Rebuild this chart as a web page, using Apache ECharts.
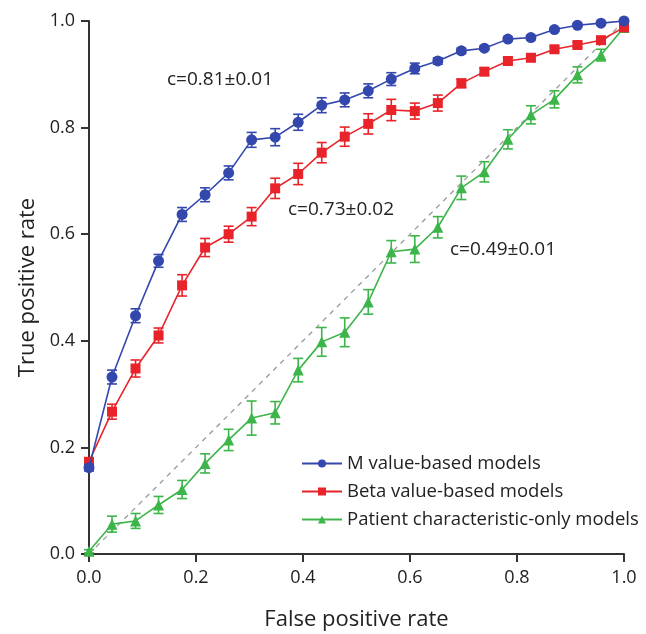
<!DOCTYPE html>
<html>
<head>
<meta charset="utf-8">
<script src="https://cdn.jsdelivr.net/npm/echarts@6/dist/echarts.min.js"></script>
<style>
  html, body { margin: 0; padding: 0; background: #fff; }
  #chart { width: 646px; height: 634px; }
</style>
</head>
<body>
<div id="chart"></div>
<script>
// false positive rate (x positions of the points)
const fpr = [0, 0.043, 0.087, 0.13, 0.174, 0.217, 0.261, 0.304, 0.348, 0.391, 0.435, 0.478,
  0.522, 0.565, 0.609, 0.652, 0.696, 0.739, 0.783, 0.826, 0.87, 0.913, 0.957, 1];

// M value-based models
const mValue = [0.162, 0.332, 0.447, 0.550, 0.637, 0.674, 0.715, 0.777, 0.782, 0.810, 0.842, 0.852,
  0.869, 0.891, 0.911, 0.925, 0.944, 0.949, 0.966, 0.969, 0.984, 0.992, 0.996, 1.0];
const mErr = [0.006, 0.013, 0.013, 0.012, 0.013, 0.013, 0.013, 0.014, 0.016, 0.015, 0.014, 0.013,
  0.013, 0.012, 0.01, 0.006, 0.005, 0.004, 0.004, 0.004, 0.003, 0.003, 0.003, 0.002];

// Beta value-based models
const betaValue = [0.173, 0.267, 0.348, 0.410, 0.504, 0.575, 0.600, 0.633, 0.686, 0.713, 0.753, 0.783,
  0.807, 0.833, 0.831, 0.846, 0.883, 0.905, 0.925, 0.931, 0.947, 0.955, 0.964, 0.988];
const betaErr = [0.006, 0.014, 0.016, 0.014, 0.02, 0.017, 0.015, 0.017, 0.019, 0.02, 0.019, 0.018,
  0.019, 0.02, 0.015, 0.015, 0.008, 0.007, 0.006, 0.006, 0.005, 0.005, 0.005, 0.004];

// Patient characteristic-only models
const patientValue = [0.005, 0.056, 0.062, 0.092, 0.121, 0.170, 0.214, 0.255, 0.265, 0.345, 0.398, 0.416,
  0.473, 0.567, 0.572, 0.613, 0.687, 0.717, 0.778, 0.824, 0.853, 0.899, 0.936, 0.988];
const patientErr = [0.003, 0.015, 0.014, 0.016, 0.017, 0.018, 0.02, 0.032, 0.021, 0.022, 0.027, 0.027,
  0.023, 0.021, 0.025, 0.02, 0.022, 0.019, 0.018, 0.017, 0.016, 0.015, 0.011, 0.005];

// reference diagonal
const diagonal = [[0, 0], [1.02, 1.02]];

const FONT = 'Open Sans';
const BLUE = '#3347ad';
const RED = '#e8232a';
const GREEN = '#3cb54a';

function pairs(xs, ys) {
  return xs.map((x, i) => [x, ys[i]]);
}

// error bars drawn with a custom series
function errorSeries(name, ys, errs, color, z) {
  return {
    type: 'custom',
    name: name + ' err',
    z: z,
    silent: true,
    clip: false,
    data: fpr.map((x, i) => [x, ys[i] - errs[i], ys[i] + errs[i]]),
    renderItem: function (params, api) {
      const lo = api.coord([api.value(0), api.value(1)]);
      const hi = api.coord([api.value(0), api.value(2)]);
      const w = 5;
      const style = { stroke: color, lineWidth: 1.6 };
      return {
        type: 'group',
        children: [
          { type: 'line', shape: { x1: lo[0], y1: lo[1], x2: hi[0], y2: hi[1] }, style: style },
          { type: 'line', shape: { x1: lo[0] - w, y1: lo[1], x2: lo[0] + w, y2: lo[1] }, style: style },
          { type: 'line', shape: { x1: hi[0] - w, y1: hi[1], x2: hi[0] + w, y2: hi[1] }, style: style }
        ]
      };
    }
  };
}

function lineSeries(name, ys, color, symbol, size, z) {
  return {
    type: 'line',
    name: name,
    z: z,
    clip: false,
    data: pairs(fpr, ys),
    symbol: symbol,
    symbolSize: size,
    showAllSymbol: true,
    lineStyle: { color: color, width: 1.6 },
    itemStyle: { color: color },
    emphasis: { disabled: true }
  };
}

const chart = echarts.init(document.getElementById('chart'));

const option = {
  animation: false,
  backgroundColor: '#fff',
  grid: { left: 89, right: 22, top: 21, bottom: 80, outerBoundsMode: 'none' },
  xAxis: {
    type: 'value',
    min: 0,
    max: 1,
    interval: 0.2,
    name: 'False positive rate',
    nameLocation: 'middle',
    nameGap: 55,
    nameTextStyle: { fontFamily: FONT, fontSize: 22, color: '#222' },
    axisLine: { lineStyle: { color: '#333', width: 2 } },
    axisTick: { length: 8, lineStyle: { color: '#333', width: 2 } },
    axisLabel: {
      margin: 15,
      fontFamily: FONT, fontSize: 18, color: '#222',
      formatter: v => v.toFixed(1)
    },
    splitLine: { show: false }
  },
  yAxis: {
    type: 'value',
    min: 0,
    max: 1,
    interval: 0.2,
    name: 'True positive rate',
    nameLocation: 'middle',
    nameGap: 50,
    nameTextStyle: { fontFamily: FONT, fontSize: 22, color: '#222' },
    axisLine: { show: true, lineStyle: { color: '#333', width: 2 } },
    axisTick: { show: true, length: 8, lineStyle: { color: '#333', width: 2 } },
    axisLabel: {
      margin: 14,
      fontFamily: FONT, fontSize: 18, color: '#222',
      formatter: v => v.toFixed(1)
    },
    splitLine: { show: false }
  },
  legend: {
    data: ['M value-based models', 'Beta value-based models', 'Patient characteristic-only models'],
    orient: 'vertical',
    left: 296,
    top: 449,
    itemWidth: 40,
    itemHeight: 10,
    itemGap: 9,
    textStyle: { fontFamily: FONT, fontSize: 18.5, color: '#222' }
  },
  graphic: [
    { type: 'text', left: 167, top: 70, style: { text: 'c=0.81±0.01', font: '19px "Open Sans"', fill: '#222' } },
    { type: 'text', left: 288, top: 200, style: { text: 'c=0.73±0.02', font: '19px "Open Sans"', fill: '#222' } },
    { type: 'text', left: 450, top: 240, style: { text: 'c=0.49±0.01', font: '19px "Open Sans"', fill: '#222' } }
  ],
  series: [
    {
      type: 'line',
      name: 'diagonal',
      data: diagonal,
      symbol: 'none',
      clip: false,
      z: 1,
      silent: true,
      lineStyle: { color: '#999', width: 1.3, type: [5, 5] }
    },
    errorSeries('Patient', patientValue, patientErr, GREEN, 2),
    lineSeries('Patient characteristic-only models', patientValue, GREEN, 'triangle', 11, 2),
    errorSeries('Beta', betaValue, betaErr, RED, 3),
    lineSeries('Beta value-based models', betaValue, RED, 'rect', 10, 3),
    errorSeries('M', mValue, mErr, BLUE, 4),
    lineSeries('M value-based models', mValue, BLUE, 'circle', 11, 4)
  ]
};

chart.setOption(option);
window.addEventListener('resize', chart.resize);
</script>
</body>
</html>
